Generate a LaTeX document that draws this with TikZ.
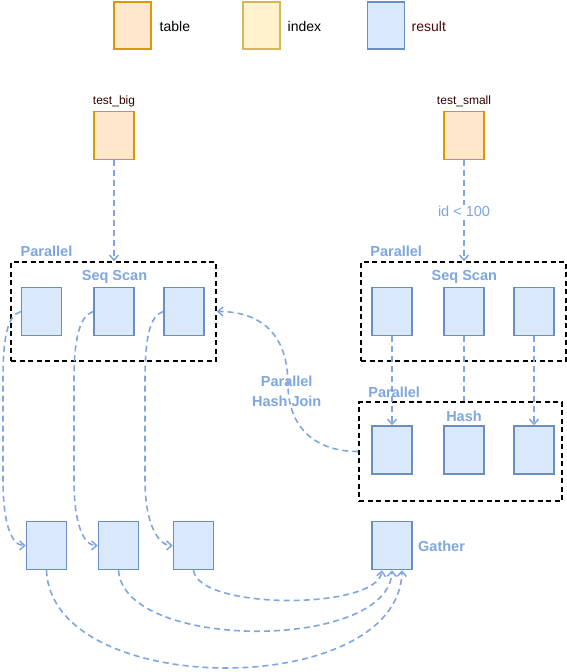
\documentclass[tikz,border=0pt]{standalone}
\usepackage{fontspec}
\setmainfont{Liberation Sans}
\usetikzlibrary{arrows.meta}
\definecolor{resfill}{HTML}{DAE8FC}
\definecolor{resdraw}{HTML}{6C8EBF}
\definecolor{tabfill}{HTML}{FFE6CC}
\definecolor{tabdraw}{HTML}{D79B00}
\definecolor{idxfill}{HTML}{FFF2CC}
\definecolor{idxdraw}{HTML}{D6B656}
\definecolor{flow}{HTML}{7EA6E0}
\definecolor{darktext}{HTML}{330000}
\definecolor{restext}{HTML}{4D0A0A}
\begin{document}
\begin{tikzpicture}[x=1pt,y=-1pt,
  resbox/.style={draw=resdraw,fill=resfill,line width=1.5pt,minimum width=40pt,minimum height=48pt,inner sep=0pt},
  tabbox/.style={draw=tabdraw,fill=tabfill,line width=1.6pt,minimum width=40pt,minimum height=48pt,inner sep=0pt},
  legtab/.style={tabbox,minimum width=37pt,minimum height=47pt},
  legidx/.style={draw=idxdraw,fill=idxfill,line width=1.6pt,minimum width=37pt,minimum height=47pt,inner sep=0pt},
  legres/.style={resbox,minimum width=37pt,minimum height=47pt},
  group/.style={draw=black,line width=1.6pt,dash pattern=on 5pt off 3.5pt,inner sep=0pt},
  flowline/.style={draw=flow,line width=1.6pt,dash pattern=on 6pt off 4pt},
  flowarrow/.style={flowline,-{Straight Barb[length=5pt,width=9pt,line width=1.5pt]}},
  blabel/.style={text=flow,font=\fontsize{14.5}{17}\selectfont\bfseries,inner sep=0pt},
  leglabel/.style={font=\fontsize{14}{17}\selectfont,inner sep=0pt,anchor=west},
  tlabel/.style={text=darktext,font=\fontsize{12}{14}\selectfont,inner sep=0pt}
]
\useasboundingbox (0,0) rectangle (567,672);

% legend
\node[legtab] (legT) at (132.5,25.5) {};
\node[leglabel] (legTt) at (159.5,26) {table};
\node[legidx] (legI) at (261.5,25.5) {};
\node[leglabel] (legIt) at (287.5,26) {index};
\node[legres] (legR) at (386,25.5) {};
\node[leglabel,text=restext] (legRt) at (411.5,26) {result};

% tables
\node[tlabel] (tbl) at (114,101.5) {test\_big};
\node[tabbox] (tb) at (114,135.5) {};
\node[tlabel] (tsl) at (464,101.5) {test\_small};
\node[tabbox] (ts) at (464,135.5) {};

% left parallel seq scan
\node[group,minimum width=205pt,minimum height=99pt] (Lbox) at (113.5,311.5) {};
\node[blabel,anchor=west] (Lpar) at (20.5,251.7) {Parallel};
\node[blabel] (Lseq) at (114.5,277) {Seq Scan};
\node[resbox] (l1) at (41.5,311.5) {};
\node[resbox] (l2) at (114,311.5) {};
\node[resbox] (l3) at (184,311.5) {};

% right parallel seq scan
\node[group,minimum width=205pt,minimum height=99pt] (Rbox) at (463.5,311.5) {};
\node[blabel,anchor=west] (Rpar) at (370.2,251.7) {Parallel};
\node[blabel] (Rseq) at (464.3,277) {Seq Scan};
\node[resbox] (r1) at (392,311.5) {};
\node[resbox] (r2) at (464,311.5) {};
\node[resbox] (r3) at (534,311.5) {};

% parallel hash
\node[group,minimum width=203pt,minimum height=99pt] (Hbox) at (460.5,451.5) {};
\node[blabel,anchor=west] (Hpar) at (368.2,392) {Parallel};
\node[blabel] (Hlab) at (464,416.7) {Hash};
\node[resbox] (h1) at (392,450) {};
\node[resbox] (h2) at (464,450) {};
\node[resbox] (h3) at (534,450) {};

% bottom results
\node[resbox] (b1) at (46.5,545.5) {};
\node[resbox] (b2) at (118.5,545.5) {};
\node[resbox] (b3) at (193.5,545.5) {};
\node[resbox] (g) at (392,545.5) {};
\node[blabel,anchor=west] (glab) at (418,546) {Gather};

% connectors
\draw[flowarrow] (tb.south) -- (tb.south |- Lbox.north);
\draw[flowarrow] (ts.south) -- (ts.south |- Rbox.north);
\node[text=flow,font=\fontsize{14.5}{17}\selectfont,fill=white,inner sep=1pt] (idlab) at (464,211) {id < 100};

\draw[flowarrow] (r1.south) -- (h1.north);
\draw[flowline] (r2.south) -- (r2.south |- Hbox.north);
\draw[flowarrow] (r3.south) -- (h3.north);

\draw[flowarrow] (Hbox.west) .. controls +(-50,0) and +(0,35) .. (288,385)
  .. controls +(0,-55) and +(40,0) .. (Lbox.east);
\node[blabel,align=center,font=\fontsize{14.5}{20}\selectfont\bfseries] (hj) at (286.7,391.7) {Parallel\\Hash Join};

\draw[flowarrow] (l1.west) .. controls +(-14,4) and +(0,-40) .. (3,380) -- (3,480)
  .. controls +(0,45) and +(-14,0) .. (b1.west);
\draw[flowarrow] (l2.west) .. controls +(-14,4) and +(0,-40) .. (74,380) -- (74,480)
  .. controls +(0,45) and +(-14,0) .. (b2.west);
\draw[flowarrow] (l3.west) .. controls +(-14,4) and +(0,-40) .. (145,380) -- (145,480)
  .. controls +(0,45) and +(-14,0) .. (b3.west);

\draw[flowarrow] (b3.south) .. controls +(5,40) and +(-5,40) .. ([xshift=-10pt]g.south);
\draw[flowarrow] (b2.south) .. controls +(5,81) and +(-3,81) .. (g.south);
\draw[flowarrow] (b1.south) .. controls +(5,130) and +(-3,130) .. ([xshift=10pt]g.south);
\end{tikzpicture}
\end{document}
